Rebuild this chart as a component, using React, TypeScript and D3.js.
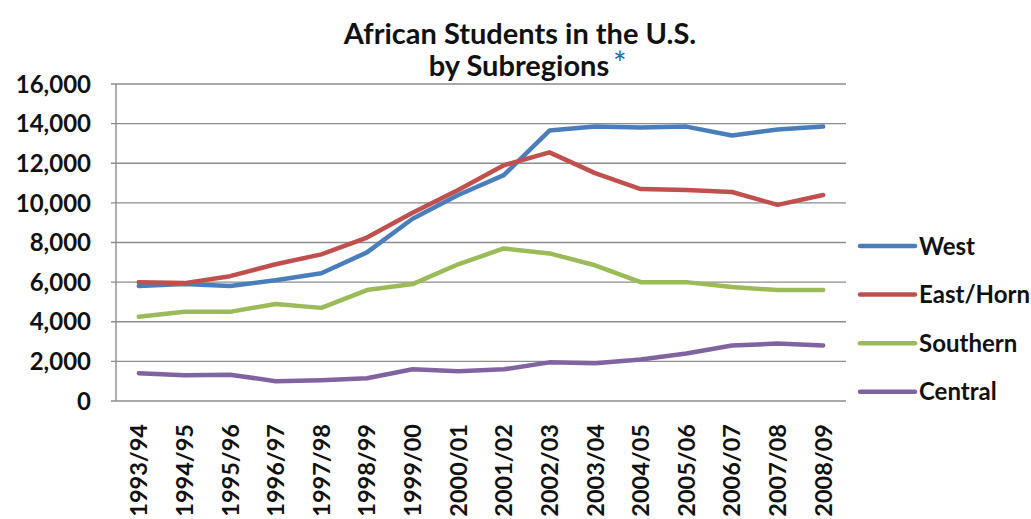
import React from "react";
import * as d3 from "d3";

const years = [
  "1993/94", "1994/95", "1995/96", "1996/97", "1997/98", "1998/99", "1999/00", "2000/01",
  "2001/02", "2002/03", "2003/04", "2004/05", "2005/06", "2006/07", "2007/08", "2008/09",
];

const west = [5800, 5900, 5800, 6100, 6450, 7500, 9200, 10400, 11400, 13650, 13850, 13800, 13850, 13400, 13700, 13850];
const eastHorn = [6000, 5950, 6300, 6900, 7400, 8250, 9500, 10650, 11900, 12550, 11500, 10700, 10650, 10550, 9900, 10400];
const southern = [4250, 4500, 4500, 4900, 4700, 5600, 5900, 6900, 7700, 7450, 6850, 6000, 6000, 5750, 5600, 5600];
const central = [1400, 1300, 1330, 1000, 1050, 1150, 1600, 1500, 1600, 1950, 1900, 2100, 2400, 2800, 2900, 2800];

const yTicks = [0, 2000, 4000, 6000, 8000, 10000, 12000, 14000, 16000];

const seriesNames = ["West", "East/Horn", "Southern", "Central"];
const seriesColors = ["#4A7EBB", "#C0504D", "#9BBB59", "#8064A2"];
const seriesValues = [west, eastHorn, southern, central];

const W = 1031;
const H = 519;
const plot = { left: 116, right: 846, top: 84, bottom: 401 };
const FONT = "Lato, 'Open Sans', sans-serif";

export default function App() {
  const x = d3.scaleBand<string>().domain(years).range([plot.left, plot.right]);
  const cx = (yr: string) => (x(yr) as number) + x.bandwidth() / 2;
  const y = d3.scaleLinear().domain([0, 16000]).range([plot.bottom, plot.top]);
  const fmt = d3.format(",");

  const line = d3
    .line<number>()
    .x((_, i) => cx(years[i]))
    .y((v) => y(v));

  const legendX = 860;
  const legendY0 = 246;
  const legendStep = 48.6;

  return (
    <svg
      width={W}
      height={H}
      viewBox={`0 0 ${W} ${H}`}
      style={{ position: "fixed", left: 0, top: 0, display: "block", background: "#fff" }}
    >
      <rect x={0} y={0} width={W} height={H} fill="#fff" />

      {/* title */}
      <text x={520} y={44} textAnchor="middle" fontFamily={FONT} fontWeight={700} fontSize={29} fill="#111">
        African Students in the U.S.
      </text>
      <text x={519} y={76} textAnchor="middle" fontFamily={FONT} fontWeight={700} fontSize={29} fill="#111">
        by Subregions
      </text>
      <text x={613} y={75} fontFamily={FONT} fontWeight={400} fontSize={32} fill="#1F6AA5">*</text>

      {/* gridlines */}
      {yTicks.map((t) => (
        <line
          key={`g${t}`}
          x1={plot.left - 5}
          x2={plot.right}
          y1={y(t)}
          y2={y(t)}
          stroke="#8c8c8c"
          strokeWidth={1.4}
        />
      ))}
      {/* y axis */}
      <line x1={plot.left} x2={plot.left} y1={plot.top} y2={plot.bottom} stroke="#8c8c8c" strokeWidth={1.4} />

      {/* y tick labels */}
      {yTicks.map((t) => (
        <text
          key={`yl${t}`}
          x={91}
          y={y(t)}
          dy="0.36em"
          textAnchor="end"
          fontFamily={FONT}
          fontWeight={700}
          fontSize={24}
          fill="#111"
        >
          {fmt(t)}
        </text>
      ))}

      {/* x tick labels */}
      {years.map((yr) => (
        <text
          key={`xl${yr}`}
          transform={`translate(${cx(yr)},${424}) rotate(-90)`}
          dy="0.36em"
          textAnchor="end"
          fontFamily={FONT}
          fontWeight={700}
          fontSize={23.5}
          fill="#111"
        >
          {yr}
        </text>
      ))}

      {/* series lines */}
      {seriesValues.map((vals, i) => (
        <path
          key={seriesNames[i]}
          d={line(vals) || ""}
          fill="none"
          stroke={seriesColors[i]}
          strokeWidth={4.5}
          strokeLinejoin="round"
          strokeLinecap="round"
        />
      ))}

      {/* legend */}
      {seriesNames.map((name, i) => {
        const ly = legendY0 + i * legendStep;
        return (
          <g key={`lg${name}`}>
            <line x1={legendX} x2={legendX + 55} y1={ly} y2={ly} stroke={seriesColors[i]} strokeWidth={4.5} strokeLinecap="round" />
            <text x={legendX + 59} y={ly} dy="0.36em" fontFamily={FONT} fontWeight={700} fontSize={24} fill="#111">
              {name}
            </text>
          </g>
        );
      })}
    </svg>
  );
}
